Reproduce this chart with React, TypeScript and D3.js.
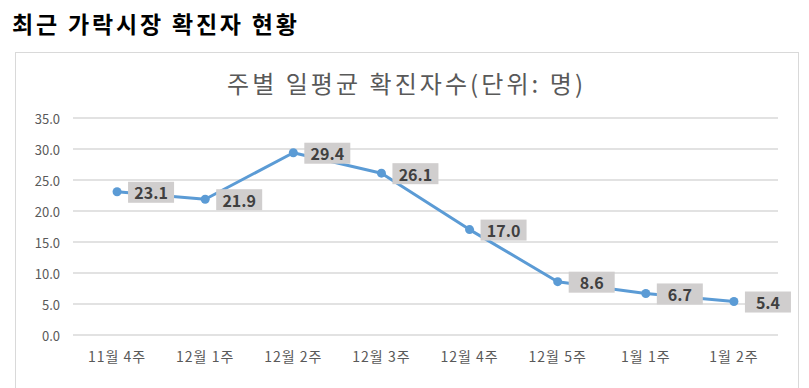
import React from 'react';
import * as d3 from 'd3';

const categories = ['11월 4주', '12월 1주', '12월 2주', '12월 3주', '12월 4주', '12월 5주', '1월 1주', '1월 2주'];
const values = [23.1, 21.9, 29.4, 26.1, 17.0, 8.6, 6.7, 5.4];
const yTicks = [0, 5, 10, 15, 20, 25, 30, 35];

const W = 809;
const H = 388;
const plot = { left: 73, right: 778, top: 118, bottom: 335 };
const font = '"Noto Sans CJK KR", "Noto Sans", sans-serif';

export default function App() {
  const x = d3.scaleBand().domain(categories).range([plot.left, plot.right]);
  const y = d3.scaleLinear().domain([0, 35]).range([plot.bottom, plot.top]);
  const cx = (c: string) => (x(c) as number) + x.bandwidth() / 2;

  const line = d3
    .line<number>()
    .x((_, i) => cx(categories[i]))
    .y((d) => y(d));

  return (
    <svg
      width={W}
      height={H}
      style={{ position: 'absolute', left: 0, top: 0, background: '#fff' }}
    >
      <text
        x={12}
        y={33}
        fontFamily={font}
        fontWeight={700}
        fontSize={23}
        fill="#000"
        textLength={285}
        lengthAdjust="spacing"
      >
        최근 가락시장 확진자 현황
      </text>
      <rect x={15.5} y={52.5} width={783} height={400} fill="#fff" stroke="#d9d9d9" />
      <text
        x={227}
        y={93}
        fontFamily={font}
        fontSize={24}
        fill="#595959"
        textLength={356}
        lengthAdjust="spacing"
      >
        주별 일평균 확진자수(단위: 명)
      </text>

      {yTicks.map((t) => (
        <g key={t}>
          <line x1={plot.left} x2={plot.right} y1={y(t)} y2={y(t)} stroke="#d9d9d9" strokeWidth={1.3} />
          <text
            x={60}
            y={y(t)}
            textAnchor="end"
            dominantBaseline="central"
            fontFamily={font}
            fontSize={13}
            fill="#595959"
          >
            {t.toFixed(1)}
          </text>
        </g>
      ))}

      {categories.map((c) => (
        <text
          key={c}
          x={cx(c)}
          y={356}
          textAnchor="middle"
          dominantBaseline="central"
          fontFamily={font}
          fontSize={14}
          letterSpacing={1}
          fill="#595959"
        >
          {c}
        </text>
      ))}

      <path d={line(values) || ''} fill="none" stroke="#5b9bd5" strokeWidth={3} strokeLinejoin="round" />
      {values.map((v, i) => (
        <circle key={i} cx={cx(categories[i])} cy={y(v)} r={4.5} fill="#5b9bd5" />
      ))}

      {values.map((v, i) => {
        const px = cx(categories[i]);
        const py = y(v);
        return (
          <g key={'l' + i}>
            <rect x={px + 11} y={py - 10} width={46} height={21} fill="#d0cece" />
            <text
              x={px + 34}
              y={py + 0.5}
              textAnchor="middle"
              dominantBaseline="central"
              fontFamily={font}
              fontWeight={700}
              fontSize={16}
              fill="#404040"
            >
              {v.toFixed(1)}
            </text>
          </g>
        );
      })}
    </svg>
  );
}
